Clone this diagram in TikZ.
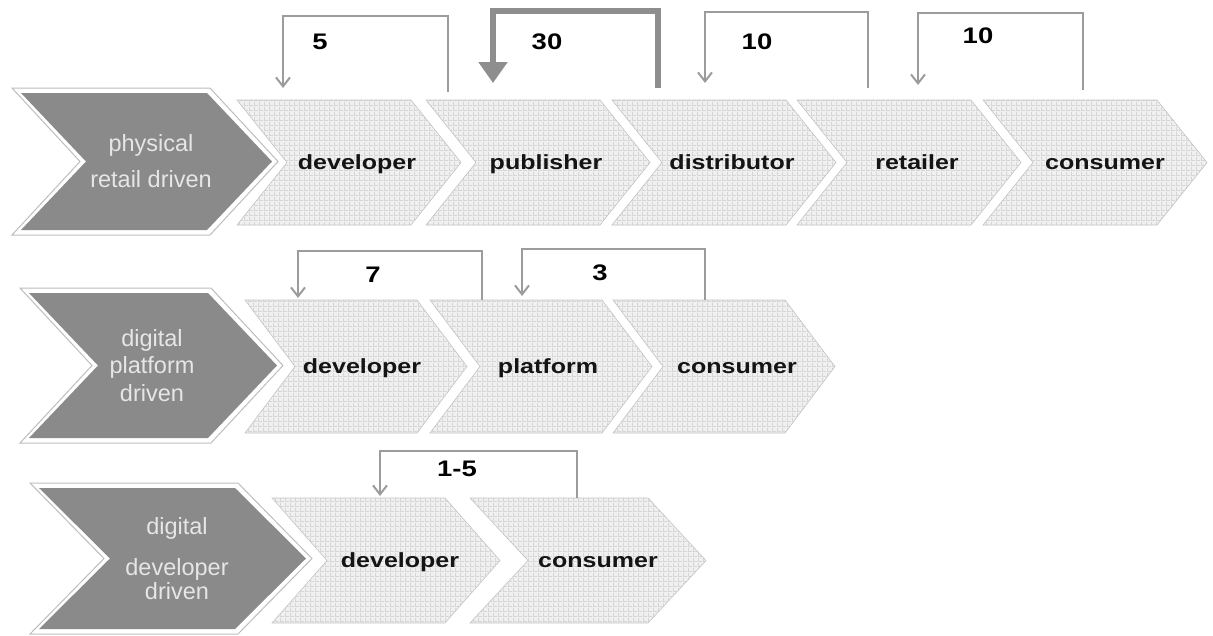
\documentclass[tikz,border=0pt]{standalone}
\usepackage{fontspec}
\setmainfont{Liberation Sans}
\newfontfamily\lblfont[FakeStretch=1.22]{Liberation Sans}
\usetikzlibrary{arrows.meta,calc,patterns.meta}

\definecolor{hdrfill}{HTML}{8A8A8A}
\definecolor{hdrline}{HTML}{BEBEBE}
\definecolor{hdrtext}{HTML}{E6E6E6}
\definecolor{chevfill}{HTML}{F0F0F0}
\definecolor{chevgrid}{HTML}{D6D6D6}
\definecolor{chevline}{HTML}{C4C4C4}
\definecolor{flowgray}{HTML}{9C9C9C}
\definecolor{bigflowgray}{HTML}{8E8E8E}

% fine square grid used as the texture of the value-chain stages
\pgfdeclarepattern{
  name=finegrid, type=uncolored,
  bottom left={\pgfpoint{0pt}{0pt}}, top right={\pgfpoint{4.5pt}{4.5pt}},
  tile size={\pgfpoint{4.5pt}{4.5pt}},
  code={
    \pgfpathrectangle{\pgfpoint{0pt}{0pt}}{\pgfpoint{4.5pt}{0.9pt}}
    \pgfpathrectangle{\pgfpoint{0pt}{0pt}}{\pgfpoint{0.9pt}{4.5pt}}
    \pgfusepath{fill}
  }}

% stage chevron: name, left x, top y, bottom y, width, point depth, label offset, label
\newcommand\stage[8]{%
  \draw[stagebox] (#2,#3) -- ({#2+#5-#6},#3) -- ({#2+#5},{(#3+#4)/2})
    -- ({#2+#5-#6},#4) -- (#2,#4) -- ({#2+#6},{(#3+#4)/2}) -- cycle;
  \coordinate (#1) at (#2,#3);
  \node[stagelbl] (#1-lbl) at ({#2+#7},{(#3+#4)/2+7}) {#8};
}

% row heading chevron: name, left x, top y, bottom y, width, point depth,
% text x, line spacing, text
\newcommand\heading[9]{%
  \draw[hdrouter] (#2,#3) -- ({#2+#5-#6},#3) -- ({#2+#5},{(#3+#4)/2})
    -- ({#2+#5-#6},#4) -- (#2,#4) -- ({#2+#6},{(#3+#4)/2}) -- cycle;
  \fill[hdrfill] ({#2+9},{#3+5}) -- ({#2+#5-#6-3},{#3+5}) -- ({#2+#5-6},{(#3+#4)/2})
    -- ({#2+#5-#6-3},{#4-5}) -- ({#2+9},{#4-5}) -- ({#2+#6+6},{(#3+#4)/2}) -- cycle;
  \node[hdrtext, font={\fontsize{23.5}{#8}\selectfont}] (#1) at (#7,{(#3+#4)/2}) {#9};
}

\begin{document}
\begin{tikzpicture}[x=1pt, y=-1pt,
  stagebox/.style={preaction={fill=chevfill}, pattern=finegrid, pattern color=chevgrid,
    draw=chevline, line width=0.6pt},
  hdrouter/.style={fill=white, draw=hdrline, line width=1pt},
  hdrtext/.style={text=hdrtext, align=center, inner sep=0pt},
  stagelbl/.style={anchor=base, text=black!92, inner sep=0pt,
    font=\lblfont\bfseries\fontsize{20.5}{24}\selectfont},
  amount/.style={text=black, inner sep=0pt,
    font=\lblfont\bfseries\fontsize{22.5}{26}\selectfont},
  flow/.style={draw=flowgray, line width=2pt, -{Straight Barb[length=9pt,width=14pt]}},
  bigflow/.style={draw=bigflowgray, line width=6pt, -{Triangle[length=21pt,width=28pt]}}]

\useasboundingbox (0,0) rectangle (1213,635);

% ---- physical retail driven ----
\heading{h1}{12}{88}{235}{266}{68}{151}{36}{physical\\retail driven}
\stage{r1dev}{237}{100}{225}{224}{50}{120}{developer}
\stage{r1pub}{426}{100}{225}{224}{50}{120}{publisher}
\stage{r1dis}{612}{100}{225}{224}{50}{120}{distributor}
\stage{r1ret}{797}{100}{225}{224}{50}{120}{retailer}
\stage{r1con}{983}{100}{225}{224}{50}{122}{consumer}

\draw[flow] ($(r1pub)+(22,-8)$) -- ++(0,-76) -| ($(r1dev)+(46,-12)$);
\draw[bigflow] ($(r1dis)+(46,-12)$) -- ++(0,-77.5) -| ($(r1pub)+(67,-17)$);
\draw[flow] ($(r1ret)+(71,-12)$) -- ++(0,-76) -| ($(r1dis)+(93,-17)$);
\draw[flow] ($(r1con)+(100,-10)$) -- ++(0,-77) -| ($(r1ret)+(121,-15)$);

\node[amount] (n5)  at (320,42) {5};
\node[amount] (n30) at (547,42) {30};
\node[amount] (n10a) at (757,42) {10};
\node[amount] (n10b) at (978,36) {10};

% ---- digital platform driven ----
\heading{h2}{20}{288}{443}{263}{72}{152}{27.5}{digital\\platform\\driven}
\stage{r2dev}{245}{300}{433}{222}{50}{117}{developer}
\stage{r2pla}{430}{300}{433}{222}{50}{118}{platform}
\stage{r2con}{613}{300}{433}{222}{50}{124}{consumer}

\draw[flow] ($(r2pla)+(52,0)$) -- ++(0,-49) -| ($(r2dev)+(53,-2)$);
\draw[flow] ($(r2con)+(92,0)$) -- ++(0,-51) -| ($(r2pla)+(92,-4)$);

\node[amount] (n7) at (373,275) {7};
\node[amount] (n3) at (600,273) {3};

% ---- digital developer driven ----
\heading{h3}{30}{483}{634}{282}{74}{177}{24}{digital\\[17pt]developer\\driven}
\stage{r3dev}{272}{498}{623}{228}{55}{128}{developer}
\stage{r3con}{470}{498}{623}{236}{58}{128}{consumer}

\draw[flow] ($(r3con)+(107,0)$) -- ++(0,-47) -| ($(r3dev)+(108,-2)$);

\node[amount] (n15) at (457,469) {1-5};

\end{tikzpicture}
\end{document}
